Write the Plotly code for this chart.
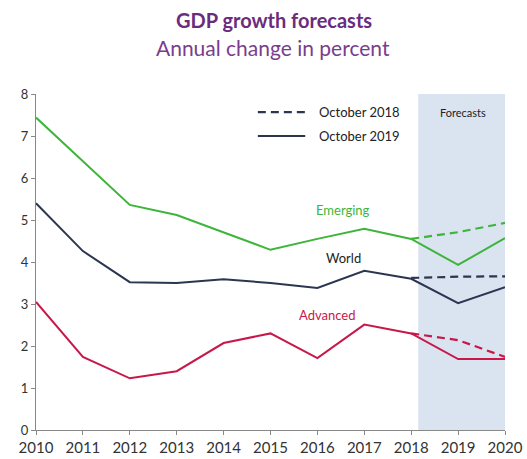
import plotly.graph_objects as go

years = [2010, 2011, 2012, 2013, 2014, 2015, 2016, 2017, 2018, 2019, 2020]
forecast_years = [2018, 2019, 2020]

emerging_2019 = [7.44, 6.40, 5.36, 5.12, 4.71, 4.29, 4.55, 4.79, 4.55, 3.93, 4.57]
world_2019 = [5.40, 4.26, 3.52, 3.50, 3.59, 3.50, 3.38, 3.79, 3.60, 3.02, 3.40]
advanced_2019 = [3.05, 1.74, 1.23, 1.40, 2.07, 2.30, 1.71, 2.51, 2.30, 1.69, 1.69]

emerging_2018 = [4.55, 4.71, 4.93]
world_2018 = [3.62, 3.65, 3.66]
advanced_2018 = [2.30, 2.14, 1.74]

GREEN = "#3db53a"
NAVY = "#2b3650"
RED = "#c8184a"
FONT = "Lato"

fig = go.Figure()

for vals, col in [(emerging_2019, GREEN), (world_2019, NAVY), (advanced_2019, RED)]:
    fig.add_trace(go.Scatter(x=years, y=vals, mode="lines",
                             line=dict(color=col, width=2), showlegend=False))
for vals, col in [(emerging_2018, GREEN), (world_2018, NAVY), (advanced_2018, RED)]:
    fig.add_trace(go.Scatter(x=forecast_years, y=vals, mode="lines",
                             line=dict(color=col, width=2.2, dash="8px,5px"), showlegend=False))

# forecast shading
fig.add_shape(type="rect", x0=2018.15, x1=2020, y0=0, y1=8, xref="x", yref="y",
              fillcolor="#dae3f0", line=dict(width=0), layer="below")

# manual legend
fig.add_shape(type="line", x0=2014.73, x1=2015.74, y0=7.57, y1=7.57,
              line=dict(color=NAVY, width=2.2, dash="8px,5px"))
fig.add_shape(type="line", x0=2014.73, x1=2015.74, y0=7.0, y1=7.0,
              line=dict(color=NAVY, width=2.2))
fig.add_annotation(x=2016.0, y=7.57, text="October 2018", showarrow=False,
                   xanchor="left", font=dict(family=FONT, size=13, color="#222222"))
fig.add_annotation(x=2016.0, y=7.0, text="October 2019", showarrow=False,
                   xanchor="left", font=dict(family=FONT, size=13, color="#222222"))

fig.add_annotation(x=2019.1, y=7.55, text="Forecasts", showarrow=False,
                   font=dict(family=FONT, size=11, color="#222222"))

# series labels
fig.add_annotation(x=2016.55, y=5.25, text="Emerging", showarrow=False,
                   font=dict(family=FONT, size=13, color=GREEN))
fig.add_annotation(x=2016.55, y=4.1, text="World", showarrow=False,
                   font=dict(family=FONT, size=13, color="#222222"))
fig.add_annotation(x=2016.2, y=2.74, text="Advanced", showarrow=False,
                   font=dict(family=FONT, size=13, color=RED))

# titles
fig.add_annotation(xref="paper", yref="paper", x=0.508, y=1.0, yshift=88,
                   text="<b>GDP growth forecasts</b>", showarrow=False,
                   font=dict(family=FONT, size=20, color="#6a2c7c"))
fig.add_annotation(xref="paper", yref="paper", x=0.505, y=1.0, yshift=61,
                   text="Annual change in percent", showarrow=False,
                   font=dict(family=FONT, size=21, color="#7a3d8c"))

fig.update_layout(
    width=527, height=459,
    margin=dict(l=36, r=22, t=94, b=29),
    paper_bgcolor="white", plot_bgcolor="white",
    showlegend=False,
    font=dict(family=FONT, color="#333333"),
)
fig.update_xaxes(range=[2010, 2020], tickvals=years, ticktext=[str(y) for y in years],
                 automargin=False,
                 showgrid=False, zeroline=False, showline=True, linecolor="#888888",
                 linewidth=1, ticks="outside", ticklen=4, tickcolor="#888888",
                 tickfont=dict(family=FONT, size=15, color="#333333"))
fig.update_yaxes(range=[0, 8], tickvals=list(range(0, 9)), automargin=False,
                 showgrid=False, zeroline=False, showline=True, linecolor="#888888",
                 linewidth=1, ticks="outside", ticklen=4, tickcolor="#888888",
                 tickfont=dict(family=FONT, size=13, color="#333333"))

fig.write_html("out.html", config={"displayModeBar": False},
               post_script="document.body.style.margin='0';document.body.style.overflow='hidden';")
